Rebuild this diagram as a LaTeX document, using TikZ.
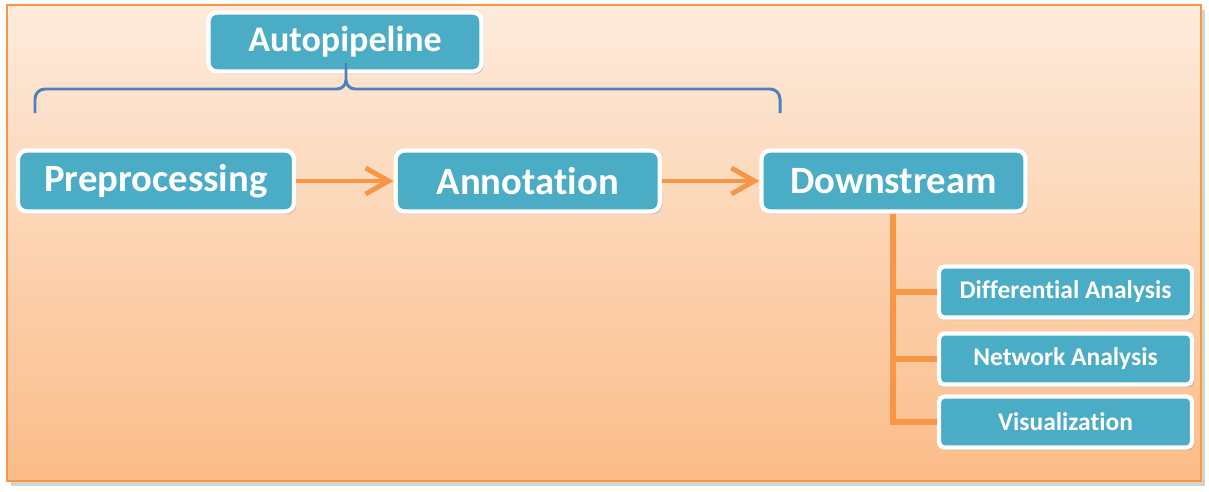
\documentclass[tikz,border=0pt]{standalone}
\usepackage{fontspec}
\setmainfont{Carlito}[Ligatures=NoCommon]
\usepackage{tikz}
\usetikzlibrary{arrows.meta, positioning, shadows}
\definecolor{cBox}{RGB}{75,172,198}
\definecolor{cEdge}{RGB}{247,150,70}
\definecolor{cBrace}{RGB}{79,129,189}
\definecolor{cTop}{RGB}{253,235,220}
\definecolor{cBot}{RGB}{251,188,136}

\begin{document}
\begin{tikzpicture}[
      node distance=1.95cm,
      box/.style={draw=white, line width=2.4pt, fill=cBox, rounded corners=5pt,
                  text=white, font=\bfseries\fontsize{22}{26}\selectfont,
                  minimum height=1.22cm, minimum width=5.28cm, inner sep=0pt,
                  drop shadow={shadow xshift=1.2pt, shadow yshift=-1.5pt, opacity=0.35}},
      sub/.style={box, rounded corners=3pt, font=\bfseries\fontsize{14.5}{17}\selectfont,
                  minimum height=1.02cm, minimum width=5.06cm},
      link/.style={cEdge, line width=2.8pt},
      >={Straight Barb[length=4.6mm, width=5.2mm]}]
    \useasboundingbox (0,0) rectangle (24.18,-9.84);
    \fill[gray, opacity=0.35] (0.22,-0.20) rectangle (24.10,-9.72);
    \shade[top color=cTop, bottom color=cBot, draw=cEdge, line width=1.3pt]
      (0.14,-0.10) rectangle (24.02,-9.62);
    \node[box, font=\bfseries\fontsize{20.5}{24}\selectfont, minimum width=5.46cm,
          minimum height=1.18cm] (auto) at (6.90,-0.84) {Autopipeline};
    \node[box, minimum width=5.52cm] (pre) at (3.12,-3.62) {Preprocessing};
    \node[box, right=of pre] (anno) {Annotation};
    \node[box, right=of anno] (down) {Downstream};
    \node[sub] (diff) at (21.31,-5.84) {Differential Analysis};
    \node[sub] (net) at (21.31,-7.18) {Network Analysis};
    \node[sub] (vis) at (21.31,-8.44) {Visualization};
    \draw[->, link] (pre) -- (anno);
    \draw[->, link] (anno) -- (down);
    \draw[cEdge, line width=3.4pt] (down.south) |- (vis.west);
    \draw[cEdge, line width=3.4pt] (down.south) |- (diff.west);
    \draw[cEdge, line width=3.4pt] (down.south) |- (net.west);
    % brace
    \draw[cBrace, line width=1.7pt] (0.70,-2.26) -- (0.70,-1.98) to[out=90,in=180] (0.90,-1.78)
      -- (6.74,-1.78) to[out=0,in=-90] (6.92,-1.60) -- (6.92,-1.26);
    \draw[cBrace, line width=1.7pt] (6.92,-1.60) to[out=-90,in=180] (7.10,-1.78)
      -- (15.40,-1.78) to[out=0,in=90] (15.60,-1.98) -- (15.60,-2.26);
  \end{tikzpicture}
\end{document}
